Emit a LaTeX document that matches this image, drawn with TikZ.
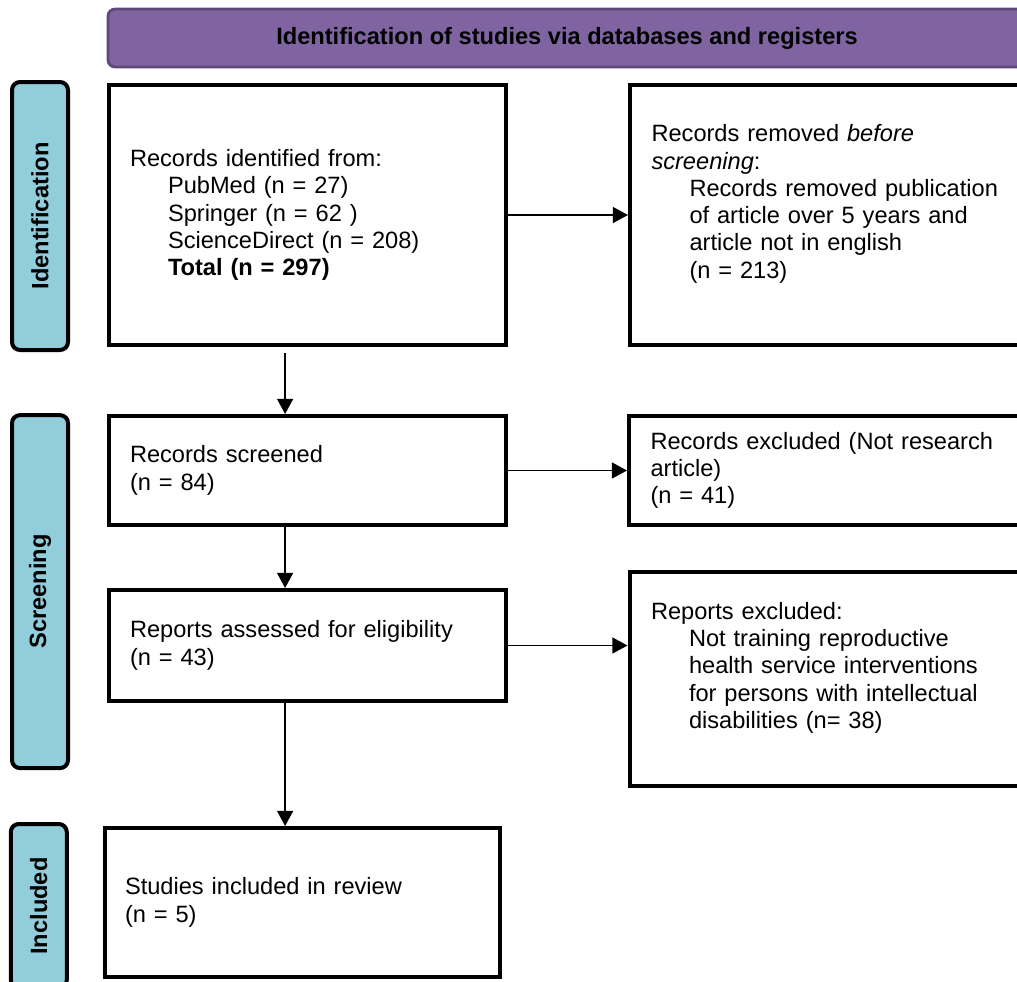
\documentclass[tikz,border=0pt]{standalone}
\usepackage{fontspec}
\setmainfont{Liberation Sans}
\usetikzlibrary{arrows.meta,positioning}

\definecolor{hdrfill}{HTML}{8064A2}
\definecolor{hdrline}{HTML}{5F497A}
\definecolor{sidefill}{HTML}{92CDDC}
\newcommand{\ind}{\hspace*{0.95cm}}

\begin{document}
\begin{tikzpicture}[
  font=\fontsize{16.8}{19.4}\selectfont,
  box/.style={draw=black, line width=0.1cm, fill=white, align=left,
              text width=8.875cm, inner sep=0pt},
  side/.style={draw=black, line width=0.1cm, fill=sidefill, rounded corners=0.2cm,
               minimum height=1.4cm, rotate=90, font=\fontsize{16.8}{19.4}\selectfont\bfseries},
  hdr/.style={draw=hdrline, line width=0.07cm, fill=hdrfill, rounded corners=0.18cm,
              minimum width=22.95cm, minimum height=1.45cm,
              font=\fontsize{16.8}{19.4}\selectfont\bfseries},
  arr/.style={-{Triangle[length=0.38cm, width=0.4cm]}, draw=black, line width=0.04cm}
]
\useasboundingbox (0,0) rectangle (25.425,-24.525);

\node[hdr] (head) at (14.175,-0.95) {Identification of studies via databases and registers};

\node[side, minimum width=6.7cm] (sideid) at (1.0,-5.4) {Identification};
\node[side, minimum width=8.825cm] (sidescr) at (1.0,-14.79) {Screening};
\node[side, minimum width=4.1cm] (sideinc) at (0.97,-22.65) {Included};

\node[box, minimum width=9.925cm, minimum height=6.5cm] (recid) at (7.6875,-5.375)
  {Records identified from:\\ \ind PubMed (n = 27)\\ \ind Springer (n = 62 )\\
   \ind ScienceDirect (n = 208)\\ \ind\textbf{Total (n = 297)}};
\node[box, minimum width=9.95cm, minimum height=6.5cm] (recrem) at (20.725,-5.375)
  {Records removed \textit{before}\\ \textit{screening}:\\ \ind Records removed publication\\
   \ind of article over 5 years and\\ \ind article not in english\\ \ind (n = 213)\\ \mbox{}};
\node[box, minimum width=9.925cm, minimum height=2.725cm] (recscr) at (7.6875,-11.7625)
  {Records screened\\ (n = 84)};
\node[box, minimum width=9.95cm, minimum height=2.725cm] (recexc) at (20.7,-11.7625)
  {Records excluded (Not research\\ article)\\ (n = 41)};
\node[box, minimum width=9.925cm, minimum height=2.775cm] (repass) at (7.6875,-16.1375)
  {Reports assessed for eligibility\\ (n = 43)};
\node[box, minimum width=9.95cm, minimum height=5.35cm] (repexc) at (20.7125,-16.975)
  {Reports excluded:\\ \ind Not training reproductive\\ \ind health service interventions\\
   \ind for persons with intellectual\\ \ind disabilities (n= 38)\\ \mbox{}};
\node[box, minimum width=9.875cm, minimum height=3.725cm] (incl) at (7.5625,-22.5625)
  {Studies included in review\\ (n = 5)};

% down the main column
\coordinate (d1) at ([xshift=-5.6mm]recid.south);
\coordinate (d2) at ([xshift=-5.6mm]recscr.south);
\coordinate (d3) at ([xshift=-5.6mm]repass.south);
\draw[arr, shorten <=0.15cm] (d1) -- (d1 |- recscr.north);
\draw[arr] (d2) -- (d2 |- repass.north);
\draw[arr] (d3) -- (d3 |- incl.north);

% to the exclusions
\draw[arr] (recid.east) -- (recrem.west);
\draw[arr] (recscr.east) -- (recexc.west);
\draw[arr] (repass.east) -- (repass.east -| repexc.west);
\end{tikzpicture}
\end{document}
